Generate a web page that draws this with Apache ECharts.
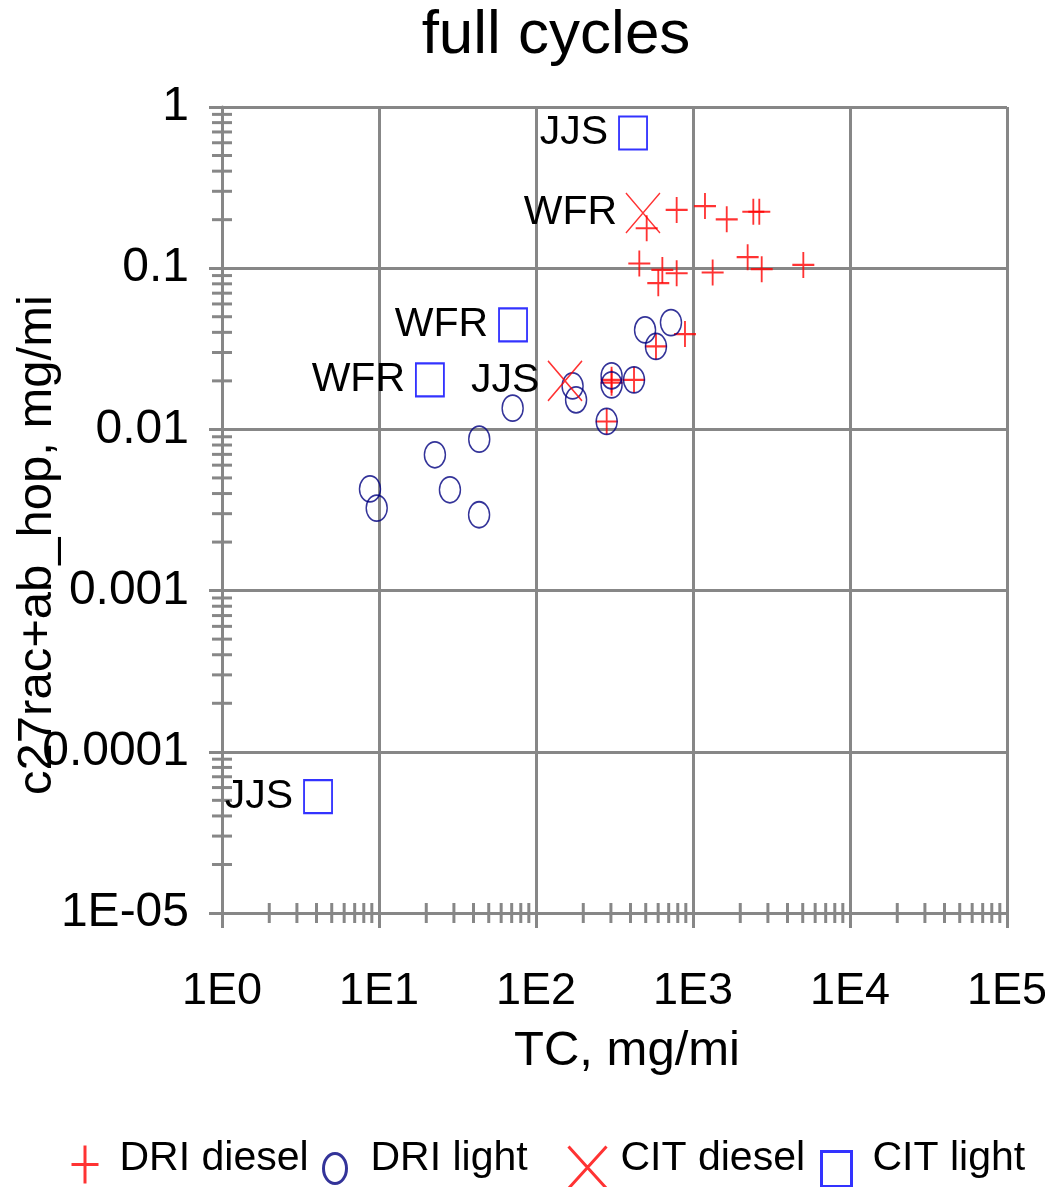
<!DOCTYPE html>
<html>
<head>
<meta charset="utf-8">
<script src="https://cdn.jsdelivr.net/npm/echarts@6/dist/echarts.min.js"></script>
<style>
  html, body { margin: 0; padding: 0; background: #ffffff; }
  #chart { width: 1045px; height: 1187px; }
</style>
</head>
<body>
<div id="chart"></div>
<script>
  // values (TC mg/mi, c27rac+ab_hop mg/mi)
  var DRI_DIESEL_TC  = [507, 787, 1192, 1640, 2422, 2644, 455, 638, 601, 787, 1334, 2229, 2739, 5043, 581, 889, 303, 303, 421, 282];
  var DRI_DIESEL_HOP = [0.177, 0.23, 0.243, 0.201, 0.224, 0.224, 0.107, 0.0976, 0.0807, 0.093, 0.094, 0.117, 0.0986, 0.1048, 0.0327, 0.039, 0.0203, 0.0195, 0.0203, 0.0112];

  var DRI_LIGHT_TC  = [495, 724, 581, 303, 303, 421, 282, 171, 180, 71, 43.5, 22.7, 28.3, 43.4, 8.76, 9.67];
  var DRI_LIGHT_HOP = [0.0414, 0.046, 0.0327, 0.0215, 0.0189, 0.0203, 0.0112, 0.0186, 0.01526, 0.01355, 0.0087, 0.00696, 0.00422, 0.002955, 0.00427, 0.00325];

  var CIT_DIESEL_TC    = [480, 153];
  var CIT_DIESEL_HOP   = [0.22, 0.02];
  var CIT_DIESEL_NAMES = ["WFR", "JJS"];

  var CIT_LIGHT_TC    = [415, 71.4, 21.1, 4.09];
  var CIT_LIGHT_HOP   = [0.69, 0.0445, 0.0203, 0.0000527];
  var CIT_LIGHT_NAMES = ["JJS", "WFR", "WFR", "JJS"];

  var SERIES_NAMES = ["DRI diesel", "DRI light", "CIT diesel", "CIT light"];

  // tick labels indexed by decade exponent
  var X_TICK_LABELS = { "0": "1E0", "1": "1E1", "2": "1E2", "3": "1E3", "4": "1E4", "5": "1E5" };
  var Y_TICK_LABELS = { "0": "1", "-1": "0.1", "-2": "0.01", "-3": "0.001", "-4": "0.0001", "-5": "1E-05" };
  var X_DECADES = [1, 10, 100, 1000, 10000];
  var Y_DECADES = [0.00001, 0.0001, 0.001, 0.01, 0.1];
  var MINOR_STEPS = [2, 3, 4, 5, 6, 7, 8, 9];

  var FONT = "'Liberation Sans', Arial, sans-serif";
  var GRAY = "#878787";

  var PLUS = "path://M11,0L11,26M0,13L22,13";
  var ELLIPSE = "path://M10,0A10,10,0,1,1,10,20A10,10,0,1,1,10,0Z";
  var XMARK = "path://M0,0L34,40M34,0L0,40";
  var SQUARE = "path://M0,0L28,0L28,33L0,33Z";

  // legend icons: a lone move point on top pushes the mark down in its box
  var LEG_PLUS = "path://M0,-12M13.5,0L13.5,38M0,19L27,19";
  var LEG_ELLIPSE = "path://M0,-20M11.5,0A11.5,15,0,1,1,11.5,30A11.5,15,0,1,1,11.5,0Z";
  var LEG_XMARK = "path://M0,-18M0,0L38,42M38,0L0,42";
  var LEG_SQUARE = "path://M0,-21M0,0L30,0L30,35L0,35Z";

  function pairs(xs, ys) {
    return xs.map(function (x, i) { return [x, ys[i]]; });
  }

  function labelled(xs, ys, names, dist) {
    return xs.map(function (x, i) {
      return {
        value: [x, ys[i]],
        label: {
          show: true,
          position: "left",
          distance: dist,
          formatter: names[i],
          color: "#000000",
          opacity: 1,
          fontFamily: FONT,
          fontSize: 41
        }
      };
    });
  }

  // minor ticks on the log axes, placed through the axes' own scales
  var minorTicks = [];
  X_DECADES.forEach(function (d) {
    MINOR_STEPS.forEach(function (s) { minorTicks.push([d * s, 0.00001, 0]); });
  });
  Y_DECADES.forEach(function (d) {
    MINOR_STEPS.forEach(function (s) { minorTicks.push([1, d * s, 1]); });
  });

  function expOf(v) { return String(Math.round(Math.log(v) / Math.LN10)); }

  function legendFor(name, left, top, w, h, icon, color, bw, padLeft) {
    return {
      data: [name],
      left: left,
      top: top,
      padding: 0,
      itemWidth: w,
      itemHeight: h,
      icon: icon,
      selectedMode: false,
      itemStyle: { color: "rgba(0,0,0,0)", borderColor: color, borderWidth: bw },
      textStyle: {
        color: "#000000",
        fontFamily: FONT,
        fontSize: 41,
        padding: [0, 0, 0, padLeft]
      }
    };
  }

  var chart = echarts.init(document.getElementById("chart"), null, { renderer: "canvas" });

  chart.setOption({
    backgroundColor: "#ffffff",
    animation: false,
    title: {
      text: "full cycles",
      left: 551,
      top: 0,
      textAlign: "center",
      textStyle: { color: "#000000", fontFamily: FONT, fontSize: 62, fontWeight: "normal" }
    },
    legend: [
      legendFor(SERIES_NAMES[0], 70, 1132, 27, 50, LEG_PLUS, "#ff0000", 3, 16),
      legendFor(SERIES_NAMES[1], 322, 1132, 23, 50, LEG_ELLIPSE, "#000080", 3, 19),
      legendFor(SERIES_NAMES[2], 567, 1127, 38, 60, LEG_XMARK, "#ff0000", 3, 9),
      legendFor(SERIES_NAMES[3], 820, 1129, 30, 56, LEG_SQUARE, "#0000ff", 3, 16)
    ],
    grid: { left: 222, right: 38, top: 107, bottom: 274, containLabel: false, outerBoundsMode: "none" },
    xAxis: {
      type: "log",
      logBase: 10,
      min: 1,
      max: 100000,
      name: "TC, mg/mi",
      nameLocation: "middle",
      nameGap: 114,
      nameMoveOverlap: false,
      nameTextStyle: { color: "#000000", fontFamily: FONT, fontSize: 49, padding: [0, 0, 0, 25] },
      axisLine: { show: true, lineStyle: { color: GRAY, width: 3 } },
      axisTick: { show: true, inside: false, length: 15, lineStyle: { color: GRAY, width: 3 } },
      axisLabel: {
        show: true,
        margin: 56,
        color: "#000000",
        fontFamily: FONT,
        fontSize: 45,
        formatter: function (v) { return X_TICK_LABELS[expOf(v)] || ""; }
      },
      splitLine: { show: true, lineStyle: { color: GRAY, width: 3 } }
    },
    yAxis: {
      type: "log",
      logBase: 10,
      min: 0.00001,
      max: 1,
      name: "c27rac+ab_hop, mg/mi",
      nameLocation: "middle",
      nameGap: 160,
      nameMoveOverlap: false,
      nameTextStyle: { color: "#000000", fontFamily: FONT, fontSize: 49, padding: [0, 70, 0, 0] },
      axisLine: { show: true, lineStyle: { color: GRAY, width: 3 } },
      axisTick: { show: true, inside: false, length: 13, lineStyle: { color: GRAY, width: 3 } },
      axisLabel: {
        show: true,
        margin: 33,
        color: "#000000",
        fontFamily: FONT,
        fontSize: 48,
        formatter: function (v) { return Y_TICK_LABELS[expOf(v)] || ""; }
      },
      splitLine: { show: true, lineStyle: { color: GRAY, width: 3 } }
    },
    series: [
      {
        type: "custom",
        silent: true,
        clip: false,
        z: 3,
        data: minorTicks,
        renderItem: function (params, api) {
          var p = api.coord([api.value(0), api.value(1)]);
          var vertical = api.value(2) === 0;
          return {
            type: "line",
            shape: vertical
              ? { x1: p[0], y1: p[1] - 10, x2: p[0], y2: p[1] + 10 }
              : { x1: p[0] - 10, y1: p[1], x2: p[0] + 10, y2: p[1] },
            style: { stroke: GRAY, lineWidth: 3 }
          };
        }
      },
      {
        name: SERIES_NAMES[0],
        type: "scatter",
        z: 4,
        symbol: PLUS,
        symbolSize: [22, 26],
        itemStyle: { color: "rgba(0,0,0,0)", borderColor: "#ff0000", borderWidth: 2, opacity: 0.8 },
        emphasis: { disabled: true },
        data: pairs(DRI_DIESEL_TC, DRI_DIESEL_HOP)
      },
      {
        name: SERIES_NAMES[1],
        type: "scatter",
        z: 4,
        symbol: ELLIPSE,
        symbolSize: [21, 26],
        itemStyle: { color: "rgba(0,0,0,0)", borderColor: "#000080", borderWidth: 1.6 },
        emphasis: { disabled: true },
        data: pairs(DRI_LIGHT_TC, DRI_LIGHT_HOP)
      },
      {
        name: SERIES_NAMES[2],
        type: "scatter",
        z: 4,
        symbol: XMARK,
        symbolSize: [34, 40],
        itemStyle: { color: "rgba(0,0,0,0)", borderColor: "#ff0000", borderWidth: 1.6 },
        emphasis: { disabled: true },
        data: labelled(CIT_DIESEL_TC, CIT_DIESEL_HOP, CIT_DIESEL_NAMES, 8)
      },
      {
        name: SERIES_NAMES[3],
        type: "scatter",
        z: 4,
        symbol: SQUARE,
        symbolSize: [28, 33],
        itemStyle: { color: "rgba(0,0,0,0)", borderColor: "#0000ff", borderWidth: 2 },
        emphasis: { disabled: true },
        data: labelled(CIT_LIGHT_TC, CIT_LIGHT_HOP, CIT_LIGHT_NAMES, 10)
      }
    ]
  });
</script>
</body>
</html>
